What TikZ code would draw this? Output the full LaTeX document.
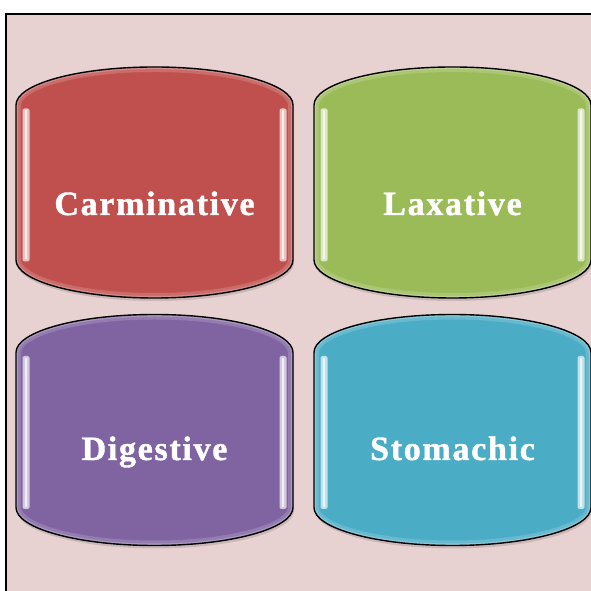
\documentclass[tikz,border=0pt]{standalone}
\usepackage{fontspec}
\setmainfont{Liberation Serif}
\newfontfamily\boxfont[LetterSpace=5, FakeBold=1.2]{Liberation Serif Bold}
\definecolor{bgpink}{HTML}{E7D1D1}
\definecolor{redbox}{HTML}{C0504D}
\definecolor{greenbox}{HTML}{9BBB59}
\definecolor{purplebox}{HTML}{8064A2}
\definecolor{bluebox}{HTML}{4BACC6}
\newcommand\barrelshape{(-138.5,77.5) arc[start angle=180, end angle=0, x radius=138.5, y radius=38] -- (138.5,-77.5) arc[start angle=0, end angle=-180, x radius=138.5, y radius=38] -- cycle}

\begin{document}
\begin{tikzpicture}[
    x=1pt, y=1pt,
    boxtext/.style={font=\boxfont\fontsize{34}{34}\selectfont, text=white, anchor=base, inner sep=0pt},
    pics/barrel/.style={code={
        \fill[black, opacity=0.12, shift={(1,-3)}] \barrelshape;
        \fill[#1] \barrelshape;
        \begin{scope}
            \clip \barrelshape;
            \draw[white, opacity=0.16, line width=10pt] \barrelshape;
            \draw[white, opacity=0.22, line width=4pt] \barrelshape;
        \end{scope}
        \fill[#1!35!white, rounded corners=2pt] (-132,-79) rectangle (-125,74);
        \fill[white, opacity=0.7] (-129.5,-77) rectangle (-127.5,72);
        \fill[#1!35!white, rounded corners=2pt] (125,-79) rectangle (132,74);
        \fill[white, opacity=0.7] (127.5,-77) rectangle (129.5,72);
        \draw[black, line width=1.4pt] \barrelshape;
    }}
]
\useasboundingbox (0,0) rectangle (591,591);
\fill[bgpink] (6,0) rectangle (591,577);
\draw[line width=1.2pt] (6,0) -- (6,577) -- (591,577);
\pic (red) at (154.5,408.5) {barrel=redbox};
\pic (green) at (452.5,408.5) {barrel=greenbox};
\pic (purple) at (154.5,161) {barrel=purplebox};
\pic (blue) at (452.5,161) {barrel=bluebox};
\node[boxtext] (carminative) at (154.5,376) {Carminative};
\node[boxtext] (laxative) at (452.5,376) {Laxative};
\node[boxtext] (digestive) at (154.5,131) {Digestive};
\node[boxtext] (stomachic) at (452.5,131) {Stomachic};
\end{tikzpicture}
\end{document}
